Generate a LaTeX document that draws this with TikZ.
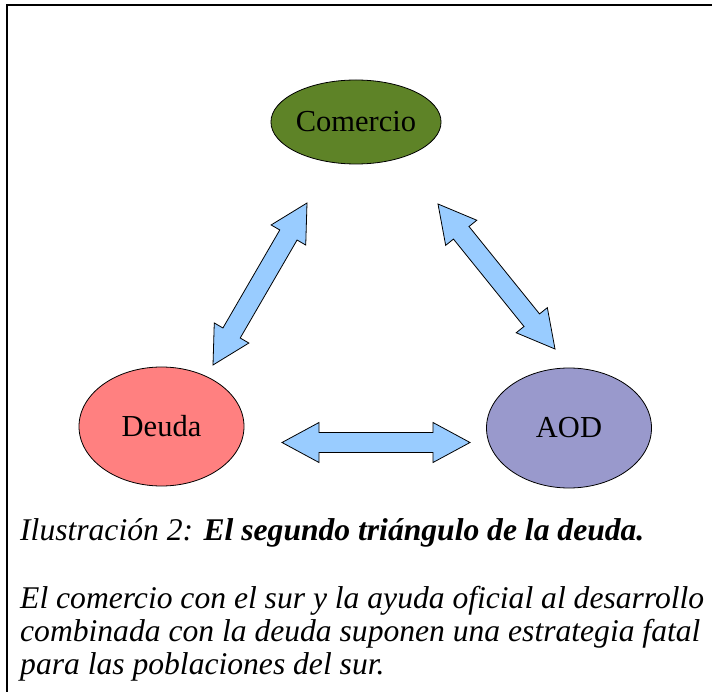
\documentclass[tikz,border=0pt]{standalone}
\usepackage{fontspec}
\setmainfont{Liberation Serif}
\usetikzlibrary{shapes.geometric,calc}
\definecolor{comgreen}{RGB}{94,131,39}
\definecolor{deured}{RGB}{255,128,128}
\definecolor{aodblue}{RGB}{153,153,204}
\definecolor{arrowblue}{RGB}{153,204,255}
\newcommand\fatarrow[2]{%
  \draw[fatarrow]
    (#1)
    -- ($(#1)!37pt!(#2)!20pt!90:(#2)$)
    -- ($(#1)!37pt!(#2)!10pt!90:(#2)$)
    -- ($(#2)!37pt!(#1)!10pt!-90:(#1)$)
    -- ($(#2)!37pt!(#1)!20pt!-90:(#1)$)
    -- (#2)
    -- ($(#2)!37pt!(#1)!20pt!90:(#1)$)
    -- ($(#2)!37pt!(#1)!10pt!90:(#1)$)
    -- ($(#1)!37pt!(#2)!10pt!-90:(#2)$)
    -- ($(#1)!37pt!(#2)!20pt!-90:(#2)$)
    -- cycle;}
\begin{document}
\begin{tikzpicture}[x=1pt,y=-1pt,
  blob/.style={ellipse, draw=black, line width=0.8pt, inner sep=0pt,
    font=\fontsize{30.5}{33}\selectfont},
  fatarrow/.style={draw=black, line width=0.8pt, fill=arrowblue, line join=miter},
  frame/.style={draw=black, line width=1.5pt},
  captext/.style={anchor=base west, inner sep=0pt,
    font=\fontsize{31.6}{33}\selectfont\itshape}]
\useasboundingbox (0,0) rectangle (712,692);
\fill[white] (0,0) rectangle (712,692);
% frame
\coordinate (f1) at (7,692);
\coordinate (f2) at (7,5);
\coordinate (f3) at (712,5);
\draw[frame] (f1) -- (f2) -- (f3);
% nodes
\node[blob, fill=comgreen, minimum width=164pt, minimum height=84pt] (com) at (356,122) {Comercio};
\node[blob, fill=deured, minimum width=165pt, minimum height=119pt] (deu) at (161.5,426.5) {Deuda};
\node[blob, fill=aodblue, minimum width=165pt, minimum height=120pt] (aod) at (569,428) {AOD};
% arrow tips
\coordinate (a1) at (213,365);
\coordinate (a2) at (307,203);
\coordinate (b1) at (438,204);
\coordinate (b2) at (555,349);
\coordinate (c1) at (282,442.5);
\coordinate (c2) at (470,442.5);
\fatarrow{a1}{a2}
\fatarrow{b1}{b2}
\fatarrow{c1}{c2}
% caption
\node[captext] (cap) at (20,540) {Ilustración 2: {\bfseries El segundo triángulo de la deuda.}};
\node[captext] (l1) at (20,608) {El comercio con el sur y la ayuda oficial al desarrollo};
\node[captext] (l2) at (20,641) {combinada con la deuda suponen una estrategia fatal};
\node[captext] (l3) at (20,674) {para las poblaciones del sur.};
\end{tikzpicture}
\end{document}
